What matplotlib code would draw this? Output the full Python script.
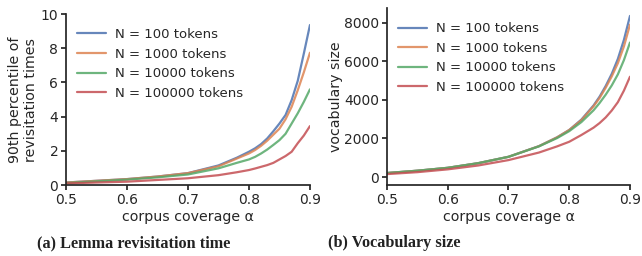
import numpy as np
import matplotlib
matplotlib.use("Agg")
import matplotlib.pyplot as plt
import seaborn as sns

sns.set_theme(style="ticks", palette="deep")
plt.rcParams['font.family'] = ['DejaVu Sans']

labels = ["N = 100 tokens", "N = 1000 tokens", "N = 10000 tokens", "N = 100000 tokens"]

# corpus coverage values
alpha_a = [0.5, 0.55, 0.6, 0.65, 0.7, 0.75, 0.78, 0.8, 0.81, 0.82, 0.83, 0.84,
           0.85, 0.86, 0.87, 0.88, 0.89, 0.9]
rev_100 = [0.15, 0.25, 0.35, 0.5, 0.7, 1.15, 1.6, 1.95, 2.15, 2.4, 2.73, 3.15,
           3.6, 4.1, 4.97, 6.1, 7.7, 9.36]
rev_1000 = [0.15, 0.25, 0.35, 0.5, 0.7, 1.1, 1.55, 1.85, 2.05, 2.3, 2.6, 2.95,
            3.3, 3.85, 4.58, 5.55, 6.6, 7.74]
rev_10000 = [0.12, 0.22, 0.32, 0.45, 0.62, 0.98, 1.3, 1.5, 1.65, 1.85, 2.08, 2.35,
             2.63, 3.0, 3.6, 4.2, 4.87, 5.6]
rev_100000 = [0.1, 0.15, 0.2, 0.3, 0.4, 0.58, 0.75, 0.88, 0.97, 1.07, 1.17, 1.3,
              1.5, 1.7, 1.95, 2.45, 2.9, 3.45]

alpha_b = [0.5, 0.55, 0.6, 0.65, 0.7, 0.75, 0.78, 0.8, 0.82, 0.84, 0.85,
           0.86, 0.87, 0.88, 0.89, 0.9]
voc_100 = [210, 330, 480, 720, 1050, 1600, 2060, 2440, 2980, 3710, 4170,
           4720, 5350, 6120, 7110, 8350]
voc_1000 = [210, 330, 480, 720, 1050, 1600, 2060, 2440, 2950, 3670, 4100,
            4630, 5220, 5900, 6770, 7900]
voc_10000 = [210, 330, 480, 720, 1050, 1590, 2020, 2380, 2850, 3460, 3840,
             4270, 4750, 5320, 6060, 6970]
voc_100000 = [155, 255, 400, 600, 880, 1270, 1590, 1830, 2180, 2560, 2800,
              3090, 3450, 3880, 4480, 5200]

fig = plt.figure(figsize=(6.42, 2.56), dpi=100)
ax1 = fig.add_axes([0.1028, 0.277, 0.380, 0.668])
ax2 = fig.add_axes([0.6028, 0.277, 0.3785, 0.691])

for ys, lab in zip([rev_100, rev_1000, rev_10000, rev_100000], labels):
	ax1.plot(alpha_a, ys, label=lab, lw=1.6, alpha=0.85)
for ys, lab in zip([voc_100, voc_1000, voc_10000, voc_100000], labels):
	ax2.plot(alpha_b, ys, label=lab, lw=1.6, alpha=0.85)

ax1.set_xlim(0.5, 0.9)
ax1.set_ylim(0, 10)
ax1.set_yticks([0, 2, 4, 6, 8, 10])
ax1.set_ylabel("90th percentile of\nrevisitation times", fontsize=10.2, labelpad=2)

ax2.set_xlim(0.5, 0.9)
ax2.set_ylim(-415, 8750)
ax2.set_yticks([0, 2000, 4000, 6000, 8000])
ax2.set_ylabel("vocabulary size", fontsize=10.2, labelpad=1)

for ax in (ax1, ax2):
	ax.set_xticks([0.5, 0.6, 0.7, 0.8, 0.9])
	ax.set_xlabel("corpus coverage α", fontsize=10.2, labelpad=2)
	ax.tick_params(labelsize=10, length=3.5, pad=2)
	ax.legend(loc="upper left", frameon=False, fontsize=9.5, handlelength=2.2,
		labelspacing=0.5, borderaxespad=0.4, handletextpad=0.75,
		bbox_to_anchor=(0.0, 0.98))
	sns.despine(ax=ax)

fig.text(0.209, 0.051, "(a) Lemma revisitation time", ha="center", va="center",
	family="Liberation Serif", fontweight="bold", fontsize=11.7, color="#222222")
fig.text(0.614, 0.051, "(b) Vocabulary size", ha="center", va="center",
	family="Liberation Serif", fontweight="bold", fontsize=11.7, color="#222222")

fig.savefig("out.png", dpi=100)
